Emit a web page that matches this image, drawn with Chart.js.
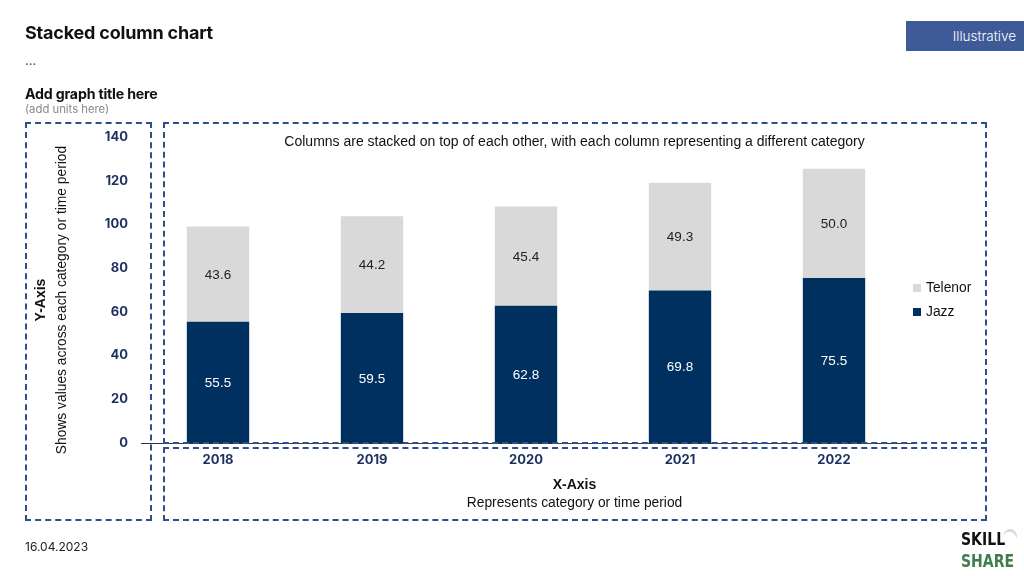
<!DOCTYPE html>
<html>
<head>
<meta charset="utf-8">
<script src="https://cdn.jsdelivr.net/npm/chart.js@4.4.0/dist/chart.umd.min.js"></script>
<style>
  html, body { margin: 0; padding: 0; background: #fff; }
  #wrap { position: relative; width: 1024px; height: 576px; overflow: hidden; font-family: Inter, "Liberation Sans", sans-serif; }
  #chartBox { position: absolute; left: 0; top: 0; width: 1024px; height: 576px; }
  .abs { position: absolute; white-space: nowrap; }
  .dash { position: absolute; border: 2px dashed #2f4f8c; box-sizing: border-box; }
  #title { left: 25px; top: 22px; font-size: 18px; font-weight: 700; color: #111; letter-spacing: -0.2px; }
  #dots { left: 25px; top: 52px; font-size: 13px; color: #444; }
  #gtitle { left: 25px; top: 85px; font-size: 14.2px; font-weight: 700; color: #111; letter-spacing: -0.2px; }
  #units { left: 25px; top: 102px; font-size: 11.3px; color: #888; }
  #illus { left: 906px; top: 21px; width: 118px; height: 30px; background: #3e5b98; color: #fff; font-size: 13.5px; font-weight: 300; line-height: 30px; text-align: right; padding-right: 8px; box-sizing: border-box; }
  #note { left: 163px; width: 823px; top: 133px; text-align: center; font-family: "Liberation Sans", Arial, sans-serif; font-size: 14px; color: #111; }
  #xt1 { left: 163px; width: 823px; top: 476px; text-align: center; font-family: "Liberation Sans", Arial, sans-serif; font-size: 14px; font-weight: 700; color: #111; }
  #xt2 { left: 163px; width: 823px; top: 495px; text-align: center; font-family: "Liberation Sans", Arial, sans-serif; font-size: 13.8px; color: #111; }
  #yt { left: -129px; top: 278px; width: 360px; height: 44px; transform: rotate(-90deg); text-align: center; font-family: "Liberation Sans", Arial, sans-serif; color: #111; line-height: 22px; }
  #yt b { font-size: 14px; display: block; }
  #yt span { font-size: 13.8px; display: block; }
  #date { left: 25px; top: 539px; font-size: 12px; color: #222; }
  #legend { left: 913px; top: 276px; font-family: "Liberation Sans", Arial, sans-serif; font-size: 13.8px; color: #111; }
  #legend div { height: 24px; line-height: 18px; display: flex; align-items: center; }
  #legend i { display: inline-block; width: 8px; height: 8px; margin-right: 5px; }
  #logo { left: 961px; top: 528px; font-family: "DejaVu Sans", sans-serif; font-weight: 700; font-size: 18px; line-height: 22px; transform: scaleX(0.78); transform-origin: left top; }
  #logo .a { color: #111; }
  #logo .b { color: #3f7d4e; }
  #moon { left: 1003px; top: 529px; width: 14px; height: 14px; border-radius: 50%; box-shadow: inset -2px 2px 0 0 #dadada; transform: rotate(-30deg); }
</style>
</head>
<body>
<div id="wrap">
  <div id="chartBox"><canvas id="c"></canvas></div>
  <div class="dash" style="left:25px; top:122px; width:127px; height:399px;"></div>
  <div class="dash" style="left:163px; top:122px; width:824px; height:322px;"></div>
  <div class="dash" style="left:163px; top:447px; width:824px; height:74px;"></div>
  <div id="title" class="abs">Stacked column chart</div>
  <div id="dots" class="abs">...</div>
  <div id="gtitle" class="abs">Add graph title here</div>
  <div id="units" class="abs">(add units here)</div>
  <div id="illus" class="abs">Illustrative</div>
  <div id="note" class="abs">Columns are stacked on top of each other, with each column representing a different category</div>
  <div id="xt1" class="abs">X-Axis</div>
  <div id="xt2" class="abs">Represents category or time period</div>
  <div id="yt" class="abs"><b>Y-Axis</b><span>Shows values across each category or time period</span></div>
  <div id="legend" class="abs"></div>
  <div id="date" class="abs">16.04.2023</div>
  <div id="moon" class="abs"></div>
  <div id="logo" class="abs"><div class="a">SKILL</div><div class="b">SHARE</div></div>
</div>
<script>
const categories = ["2018", "2019", "2020", "2021", "2022"];
const jazz = [55.5, 59.5, 62.8, 69.8, 75.5];
const telenor = [43.6, 44.2, 45.4, 49.3, 50.0];
const seriesNames = ["Jazz", "Telenor"];
const yTicks = [0, 20, 40, 60, 80, 100, 120, 140];

const JAZZ = "#00305f";
const TELENOR = "#d9d9d9";
const NAVY = "#1c2f5e";

const labelPlugin = {
  id: "barLabels",
  afterDatasetsDraw(chart) {
    const ctx = chart.ctx;
    ctx.save();
    ctx.font = '13.5px "Liberation Sans", Arial, sans-serif';
    ctx.textAlign = "center";
    ctx.textBaseline = "middle";
    chart.data.datasets.forEach((ds, di) => {
      const meta = chart.getDatasetMeta(di);
      meta.data.forEach((bar, i) => {
        const v = ds.data[i];
        const y = (bar.y + bar.base) / 2 + 1;
        ctx.fillStyle = ds.labelColor;
        ctx.fillText(v.toFixed(1), bar.x, y);
      });
    });
    ctx.restore();
  }
};

const chart = new Chart(document.getElementById("c"), {
  type: "bar",
  data: {
    labels: categories,
    datasets: [
      { label: seriesNames[0], data: jazz, backgroundColor: JAZZ, labelColor: "#ffffff", barPercentage: 0.405, categoryPercentage: 1 },
      { label: seriesNames[1], data: telenor, backgroundColor: TELENOR, labelColor: "#222222", barPercentage: 0.405, categoryPercentage: 1 }
    ]
  },
  options: {
    responsive: true,
    maintainAspectRatio: false,
    animation: false,
    layout: { padding: { top: 137, right: 113, bottom: 0, left: 0 } },
    plugins: { legend: { display: false }, tooltip: { enabled: false } },
    scales: {
      x: {
        stacked: true,
        grid: { display: false, drawTicks: false },
        border: { display: true, color: "#333", width: 1 },
        ticks: { color: NAVY, font: { family: "Inter, 'Liberation Sans', sans-serif", size: 13, weight: "bold" }, padding: 9 },
        afterFit(s) { s.height = 576 - 443; }
      },
      y: {
        stacked: true,
        min: yTicks[0],
        max: yTicks[yTicks.length - 1],
        grid: { display: false, drawTicks: false },
        border: { display: false },
        afterBuildTicks(s) { s.ticks = yTicks.map(v => ({ value: v })); },
        ticks: { color: NAVY, font: { family: "Inter, 'Liberation Sans', sans-serif", size: 13, weight: "bold" }, padding: 13 },
        afterFit(s) { s.width = 141; }
      }
    }
  },
  plugins: [labelPlugin]
});

// legend built from datasets (Telenor on top)
const leg = document.getElementById("legend");
chart.data.datasets.slice().reverse().forEach(ds => {
  const d = document.createElement("div");
  d.innerHTML = '<i style="background:' + ds.backgroundColor + '"></i>' + ds.label;
  leg.appendChild(d);
});
</script>
</body>
</html>
